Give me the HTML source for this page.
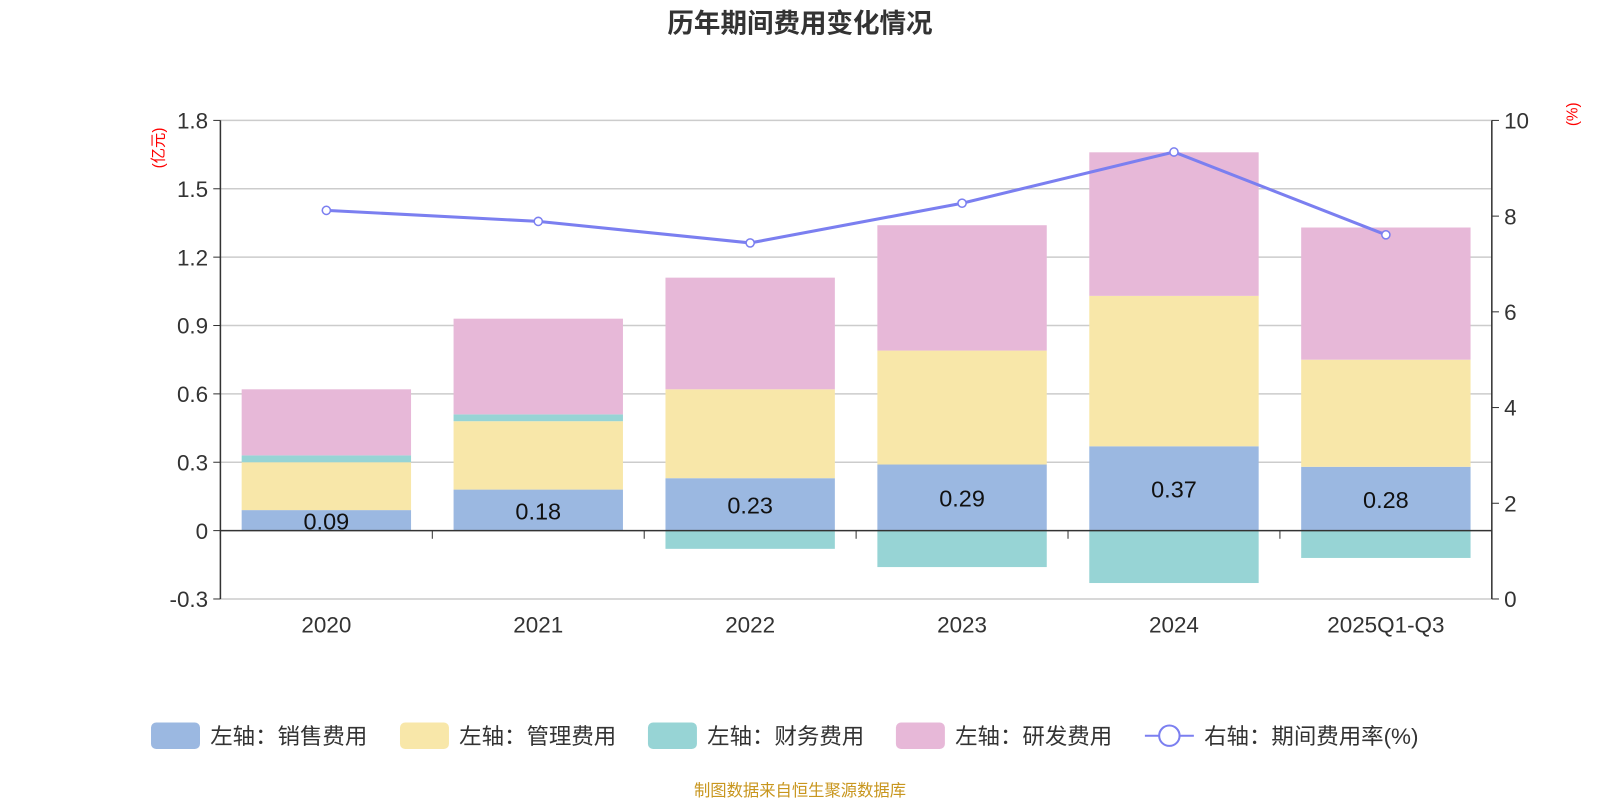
<!DOCTYPE html>
<html><head><meta charset="utf-8"><style>
body{margin:0;background:#fff;width:1600px;height:800px;overflow:hidden;font-family:"Liberation Sans","Noto Sans CJK SC",sans-serif}
</style></head><body>
<svg width="1600" height="800" xmlns="http://www.w3.org/2000/svg" style="font-family:'Liberation Sans','Noto Sans CJK SC',sans-serif"><g id="c" transform="scale(1.0204)"></g></svg>
<script>
const categories=["2020","2021","2022","2023","2024","2025Q1-Q3"];
const sales=[0.09,0.18,0.23,0.29,0.37,0.28];
const mgmt=[0.21,0.30,0.39,0.50,0.66,0.47];
const finance=[0.03,0.03,-0.08,-0.16,-0.23,-0.12];
const rnd=[0.29,0.42,0.49,0.55,0.63,0.58];
const rate=[8.12,7.89,7.44,8.27,9.34,7.61];
const leftTicks=[-0.3,0,0.3,0.6,0.9,1.2,1.5,1.8];
const rightTicks=[0,2,4,6,8,10];
const svg=document.getElementById('c');const NS="http://www.w3.org/2000/svg";
function el(t,a,txt){const e=document.createElementNS(NS,t);for(const k in a)e.setAttribute(k,a[k]);if(txt!=null)e.textContent=txt;svg.appendChild(e);return e;}
const X0=216,X1=1462,bw=(X1-X0)/categories.length;
const yL=v=>520-v*(402/1.8);
const yR=v=>587-v*46.9;
const cx=i=>X0+bw*(i+0.5);
let e;
e=el('text',{x:784,y:32,'text-anchor':'middle','font-size':26,'font-weight':'bold',fill:'#333'},'历年期间费用变化情况');

leftTicks.forEach(t=>{
 if(t!==0){e=el('line',{x1:X0,x2:X1,y1:yL(t),y2:yL(t),stroke:'#ccc','stroke-width':1.5});}
 e=el('line',{x1:X0-7,x2:X0,y1:yL(t),y2:yL(t),stroke:'#333'});
 e=el('text',{x:X0-12,y:yL(t)+8,'text-anchor':'end','font-size':22,fill:'#333'},t===0?'0':t.toFixed(1));
 
});
rightTicks.forEach(t=>{
 el('line',{x1:X1,x2:X1+7,y1:yR(t),y2:yR(t),stroke:'#333'});
 e=el('text',{x:X1+12,y:yR(t)+8,'font-size':22,fill:'#333'},String(t));
 
});
el('line',{x1:X0,x2:X0,y1:118,y2:587,stroke:'#333','stroke-width':1.5});
el('line',{x1:X1,x2:X1,y1:118,y2:587,stroke:'#333','stroke-width':1.5});
e=el('text',{transform:'translate(160,145) rotate(-90)','text-anchor':'middle','font-size':15,fill:'red'},'(亿元)');

e=el('text',{transform:'translate(1546,112) rotate(-90)','text-anchor':'middle','font-size':15,fill:'red'},'(%)');

const W=166;
categories.forEach((c,i)=>{
 const x=cx(i)-W/2;
 const segs=[[0,sales[i],'#9bb8e1','bar-sales']];
 let top=sales[i];
 segs.push([top,top+mgmt[i],'#f8e7a9','bar-mgmt']);top+=mgmt[i];
 if(finance[i]>=0){segs.push([top,top+finance[i],'#97d4d5','bar-finance']);top+=finance[i];}
 else segs.push([finance[i],0,'#97d4d5','bar-finance']);
 segs.push([top,top+rnd[i],'#e7b8d8','bar-rnd']);
 segs.forEach(s=>{e=el('rect',{x:x,width:W,y:yL(s[1]),height:yL(s[0])-yL(s[1]),fill:s[2]});
  });
 e=el('text',{x:cx(i),y:yL(sales[i]/2)+9,'text-anchor':'middle','font-size':23,fill:'#111'},sales[i].toFixed(2));
 
 e=el('text',{x:cx(i),y:620,'text-anchor':'middle','font-size':22,fill:'#333'},c);
 
});
el('line',{x1:X0,x2:X1,y1:yL(0),y2:yL(0),stroke:'#333','stroke-width':1.5});
for(let i=0;i<=categories.length;i++)el('line',{x1:X0+bw*i,x2:X0+bw*i,y1:520,y2:528,stroke:'#333'});
e=el('polyline',{points:rate.map((v,i)=>cx(i)+','+yR(v)).join(' '),fill:'none',stroke:'#7b7ff0','stroke-width':3});

rate.forEach((v,i)=>{e=el('circle',{cx:cx(i),cy:yR(v),r:4,fill:'#fff',stroke:'#7b7ff0','stroke-width':1.5});
 });
const leg=[['左轴：销售费用','#9bb8e1',148],['左轴：管理费用','#f8e7a9',392],['左轴：财务费用','#97d4d5',635],['左轴：研发费用','#e7b8d8',878]];
leg.forEach(l=>{e=el('rect',{x:l[2],y:708,width:48,height:26,rx:5,fill:l[1]});
 
 e=el('text',{x:l[2]+58,y:729,'font-size':22,fill:'#333'},l[0]);
 });
el('line',{x1:1122,x2:1170,y1:721,y2:721,stroke:'#7b7ff0','stroke-width':2});
el('circle',{cx:1146,cy:721,r:10,fill:'#fff',stroke:'#7b7ff0','stroke-width':2});
e=el('text',{x:1180,y:729,'font-size':22,fill:'#333'},'右轴：期间费用率(%)');

e=el('text',{x:784,y:780,'text-anchor':'middle','font-size':16,fill:'#c8961e'},'制图数据来自恒生聚源数据库');

</script>
</body></html>
